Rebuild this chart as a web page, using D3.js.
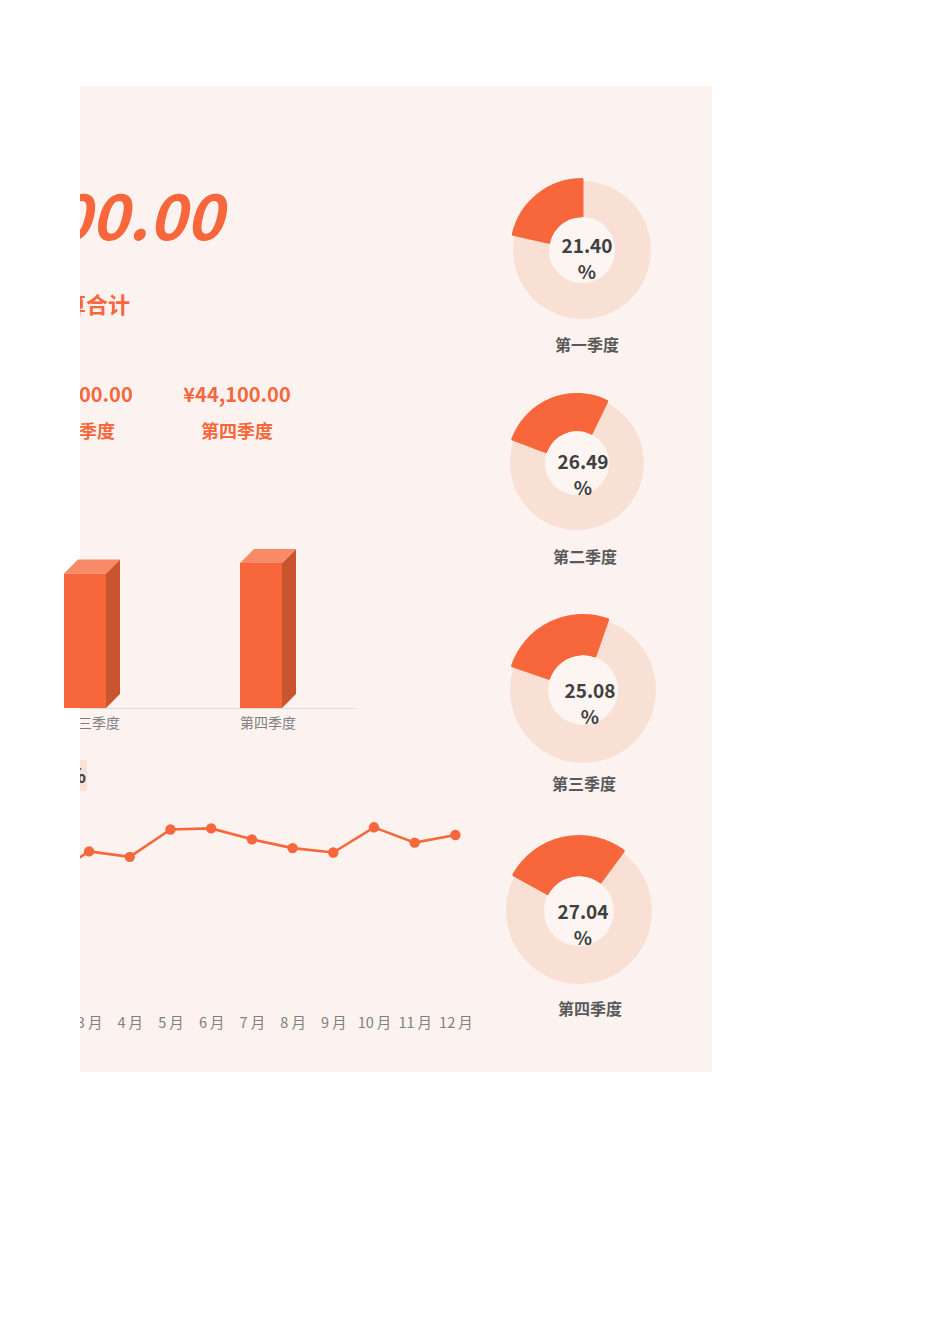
<!DOCTYPE html>
<html><head><meta charset="utf-8">
<script src="https://cdn.jsdelivr.net/npm/d3@7"></script>
<style>body{margin:0;background:#fff}svg{display:block}</style>
</head><body>
<script>
// ---------- data ----------
const quarters = ["第一季度","第二季度","第三季度","第四季度"];
const quarterValues = [34900, 43200, 40900, 44100];
const quarterPercents = ["21.40","26.49","25.08","27.04"];
const totalValue = 163100;
const totalLabel = "预算合计";
const months = ["1月","2月","3月","4月","5月","6月","7月","8月","9月","10月","11月","12月"];
const monthValues = [10900,10800,13200,12700,15200,15300,14300,13500,13100,15400,14000,14700];
const lineTitle = "月度预算占比%";

// ---------- layout ----------
const W = 950, H = 1344;
const orange = "#f7673b", orangeSide = "#c9552e", orangeTop = "#f98a68";
const ringLight = "#f9e0d4", panelBg = "#fcf3f0";
const font = "'Noto Sans CJK SC','Noto Sans',sans-serif";
const fmt = v => "¥" + d3.format(",.2f")(v);

const svg = d3.select("body").append("svg").attr("width", W).attr("height", H)
  .style("font-family", font);
svg.append("rect").attr("width", W).attr("height", H).attr("fill", "#fff");

const panel = {x:80, y:86, w:632, h:986};
svg.append("clipPath").attr("id","pclip").append("rect")
  .attr("x",panel.x).attr("y",panel.y).attr("width",panel.w).attr("height",panel.h);
svg.append("rect").attr("x",panel.x).attr("y",panel.y).attr("width",panel.w).attr("height",panel.h)
  .attr("fill", panelBg);

const g = svg.append("g").attr("clip-path","url(#pclip)");

// big total
g.append("text").attr("x",223).attr("y",240).attr("text-anchor","end")
  .attr("font-size",63).attr("font-weight",700).attr("font-style","italic")
  .attr("fill",orange).text(fmt(totalValue));
g.append("text").attr("x",130).attr("y",313).attr("text-anchor","end")
  .attr("font-size",22).attr("font-weight",700).attr("fill",orange).text(totalLabel);

// quarter value row
const qx = d3.scalePoint().domain(quarters).range([237-3*158, 237]);
quarters.forEach((q,i)=>{
  g.append("text").attr("x",qx(q)).attr("y",402).attr("text-anchor","middle")
   .attr("font-size",20).attr("font-weight",700).attr("fill",orange).text(fmt(quarterValues[i]));
  g.append("text").attr("x",qx(q)).attr("y",438).attr("text-anchor","middle")
   .attr("font-size",18).attr("font-weight",700).attr("fill",orange).text(q);
});

// ---------- 3D bar chart ----------
const xb = d3.scaleBand().domain(quarters).range([-348, 356]).padding(0);
const yb = d3.scaleLinear().domain([0, 50000]).range([708, 543.6]);
const depth = 14, frontW = 42;
g.append("line").attr("x1",40).attr("x2",356).attr("y1",708.5).attr("y2",708.5)
  .attr("stroke","#dcdcdc").attr("stroke-width",1.2);
quarters.forEach(q=>{
  g.append("text").attr("x",xb(q)+xb.bandwidth()/2).attr("y",728).attr("text-anchor","middle")
   .attr("font-size",14).attr("fill","#7f7f7f").text(q);
});
const bars = svg.append("g");
quarters.forEach((q,i)=>{
  const cx = xb(q)+xb.bandwidth()/2;
  const x0 = cx - (frontW+depth)/2, x1 = x0 + frontW;
  const yt = yb(quarterValues[i]), y0 = yb(0);
  bars.append("path").attr("fill",orangeSide)
    .attr("d",`M${x1},${y0}L${x1},${yt}L${x1+depth},${yt-depth}L${x1+depth},${y0-depth}Z`);
  bars.append("path").attr("fill",orangeTop)
    .attr("d",`M${x0},${yt}L${x0+depth},${yt-depth}L${x1+depth},${yt-depth}L${x1},${yt}Z`);
  bars.append("rect").attr("x",x0).attr("y",yt).attr("width",frontW).attr("height",y0-yt).attr("fill",orange);
});

// ---------- line chart ----------
g.append("rect").attr("x",-60).attr("y",760).attr("width",147).attr("height",31).attr("fill","#f8e1d5");
g.append("text").attr("x",86).attr("y",783).attr("text-anchor","end")
  .attr("font-size",20).attr("font-weight",700).attr("fill","#404040").text(lineTitle);
const xl = d3.scalePoint().domain(months).range([7.7, 455.4]);
const yl = d3.scaleLinear().domain([0, 20000]).range([995.8, 777]);
const line = d3.line().x((d,i)=>xl(months[i])).y(d=>yl(d));
g.append("path").datum(monthValues).attr("d",line).attr("fill","none")
  .attr("stroke",orange).attr("stroke-width",2.6);
g.selectAll(".dot").data(monthValues).join("circle")
  .attr("cx",(d,i)=>xl(months[i])).attr("cy",d=>yl(d)).attr("r",5.2).attr("fill",orange);
const ax = g.append("g").attr("transform","translate(0,1012)")
  .call(d3.axisBottom(xl).tickSize(0).tickPadding(6));
ax.select(".domain").remove();
ax.selectAll("text").attr("font-size",14.5).attr("fill","#7f7f7f").attr("font-family",font)
  .each(function(d){
    const t = d3.select(this).text(null);
    t.append("tspan").text(d.replace("月",""));
    t.append("tspan").attr("dx",3).text("月");
  });

// ---------- donuts ----------
const donutCenters = [[582,250],[577,463],[583,690],[579,911]];
const donutR = [69,67,73,73];
const donutEnd = [0, 25.7, 19.3, 36.4];   // degrees, clockwise from 12 o'clock
const textCenters = [[587,246],[583,462],[590,691],[583,912]];
const labelPos = [[587,351],[585,563],[584,790],[590,1015]];
quarters.forEach((q,i)=>{
  const [cx,cy] = donutCenters[i];
  const R = donutR[i], r = R*0.48;
  const dg = g.append("g").attr("transform",`translate(${cx},${cy})`);
  const p = +quarterPercents[i]/100;
  dg.append("path").attr("fill",ringLight)
    .attr("d", d3.arc().innerRadius(r).outerRadius(R)({startAngle:0,endAngle:2*Math.PI}));
  const end = donutEnd[i]*Math.PI/180;
  dg.append("path").attr("fill",orange).attr("stroke",orange).attr("stroke-width",3)
    .attr("stroke-linejoin","round")
    .attr("d", d3.arc().innerRadius(r+1).outerRadius(R+1.5)({startAngle:end - p*2*Math.PI, endAngle:end}));
  dg.append("circle").attr("r",r-0.5).attr("fill","#fdf5f2");
  const [tx,ty] = textCenters[i];
  g.append("text").attr("x",tx).attr("y",ty+7).attr("text-anchor","middle")
    .attr("font-size",19).attr("font-weight",700).attr("fill","#404040").text(quarterPercents[i]);
  g.append("text").attr("x",tx).attr("y",ty+33).attr("text-anchor","middle")
    .attr("font-size",19).attr("font-weight",700).attr("fill","#404040").text("%");
  g.append("text").attr("x",labelPos[i][0]).attr("y",labelPos[i][1]).attr("text-anchor","middle")
    .attr("font-size",16).attr("font-weight",700).attr("fill","#595959").text(q);
});
</script>
</body></html>
